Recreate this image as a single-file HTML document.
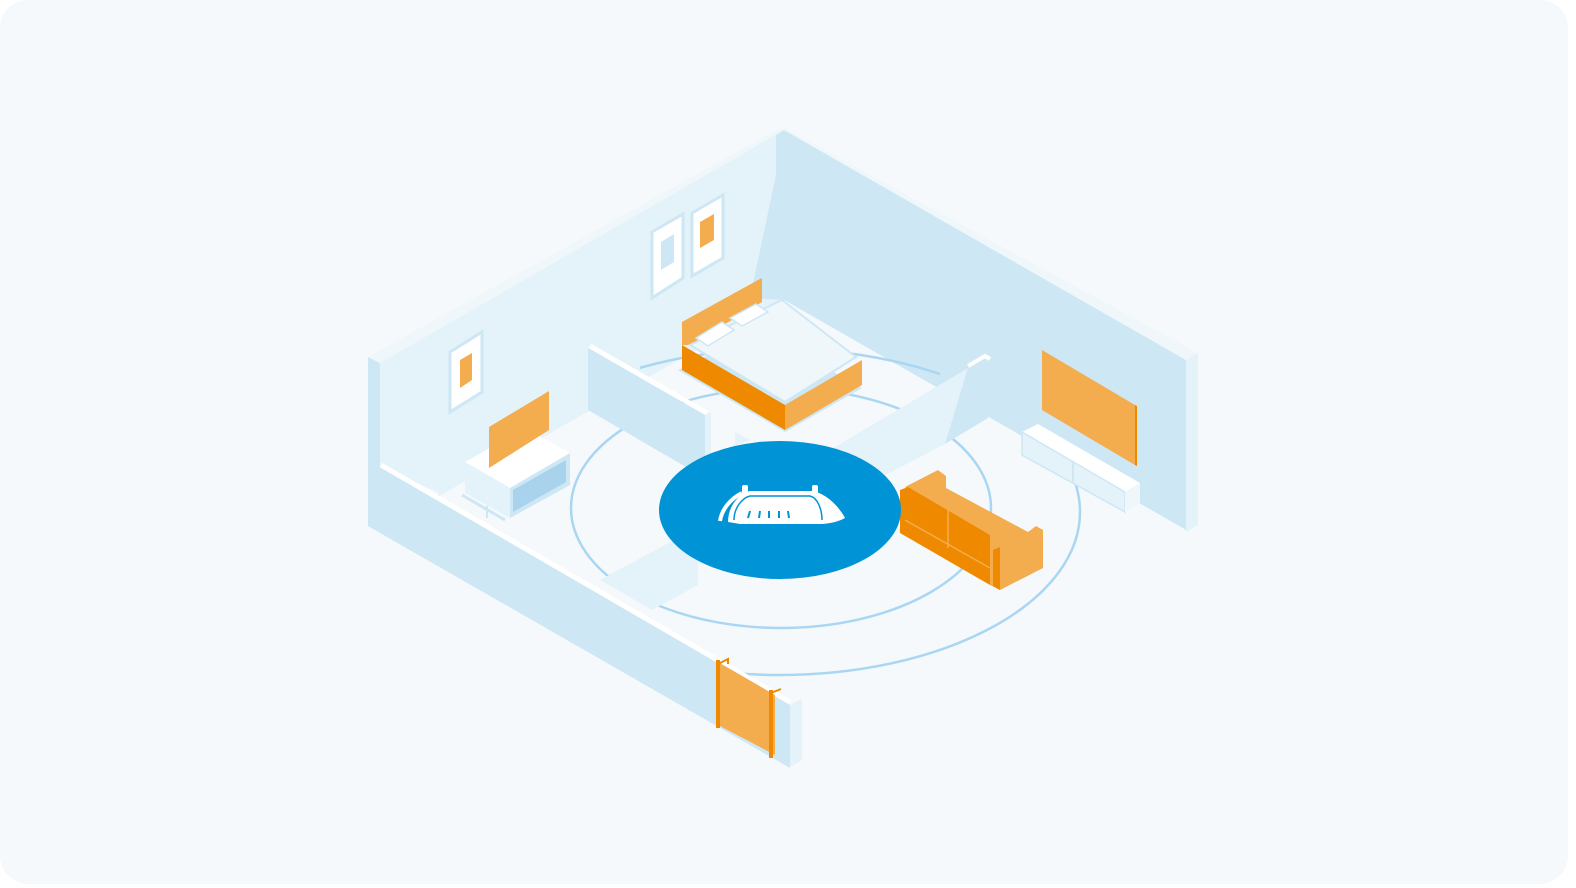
<!DOCTYPE html>
<html><head><meta charset="utf-8"><style>
html,body{margin:0;padding:0;background:#fff;width:1576px;height:888px;overflow:hidden}
</style></head><body>
<svg width="1576" height="888" viewBox="0 0 1576 888" xmlns="http://www.w3.org/2000/svg">
<defs>
<clipPath id="oc"><rect x="735" y="560" width="420" height="160"/><rect x="1040" y="440" width="80" height="200"/><rect x="640" y="340" width="300" height="48"/></clipPath>
</defs>
<rect x="0" y="0" width="1568" height="884" rx="28" fill="#f5f9fc"/>
<polygon points="380,363 784,130 784,300 380,530" fill="#e4f2f9"/>
<polygon points="776,135 784,130 1186,360 1186,530 784,300 750,298 776,175" fill="#cde7f4"/>
<polygon points="368,357 380,363 380,530 368,523" fill="#cde7f4"/>
<polygon points="368,357 780,128 784,130 380,363" fill="#f0f7fb"/>
<polygon points="1186,360 1198,353 1198,525 1186,532" fill="#e4f2f9"/>
<polygon points="784,128 1198,353 1186,360 784,130" fill="#f0f7fb"/>
<polygon points="380,530 784,300 1186,530 790,760" fill="#f5f9fc"/>
<polygon points="380,467 440,493 380,530" fill="#f5f9fc"/>
<ellipse cx="781" cy="508" rx="210" ry="120" fill="none" stroke="#a9d6f2" stroke-width="2.5"/>
<ellipse cx="780" cy="512" rx="300" ry="163" fill="none" stroke="#a9d6f2" stroke-width="2.5" clip-path="url(#oc)"/>
<polygon points="450,352 482,332 482,392 450,412" fill="#fff" stroke="#cde7f4" stroke-width="3"/>
<polygon points="460,360 472,353 472,380 460,388" fill="#f3ad4e"/>
<polygon points="652,232 683,214 683,278 652,298" fill="#fff" stroke="#cde7f4" stroke-width="3"/>
<polygon points="661,242 674,234 674,262 661,270" fill="#cde7f4"/>
<polygon points="692,213 723,195 723,258 692,276" fill="#fff" stroke="#cde7f4" stroke-width="3"/>
<polygon points="700,222 714,214 714,240 700,248" fill="#f3ad4e"/>
<polygon points="588,348 705,415 705,478 588,410" fill="#cde7f4"/>
<polygon points="705,415 711,412 711,476 705,478" fill="#e4f2f9"/>
<polyline points="590,346 707,413" stroke="#fff" stroke-width="5" fill="none"/>
<polygon points="830,450 968,368 945,444 880,478" fill="#e4f2f9"/>
<polygon points="968,368 988,358 988,418 945,444" fill="#cde7f4"/>
<polyline points="968,366 985,356 990,359" stroke="#fff" stroke-width="4" fill="none"/>
<polygon points="735,432 750,440 735,446" fill="#e4f2f9"/>
<polygon points="678,370 785,432 862,388 760,330" fill="#cde7f4"/>
<polygon points="682,322 758,280 762,278 762,302 690,345 682,345" fill="#f3ad4e"/>
<polygon points="682,345 785,405 785,430 682,370" fill="#ef8a00"/>
<polygon points="785,405 862,360 862,385 785,430" fill="#f3ad4e"/>
<polygon points="690,345 782,300 856,357 785,402" fill="#f0f7fb" stroke="#cde7f4" stroke-width="2"/>
<polygon points="696,338 722,322 734,330 708,346" fill="#fff" stroke="#cde7f4" stroke-width="1.5"/>
<polygon points="730,318 756,304 768,312 742,326" fill="#fff" stroke="#cde7f4" stroke-width="1.5"/>
<polygon points="465,462 525,428 570,453 510,488" fill="#fff"/>
<polygon points="465,462 510,488 510,518 465,493" fill="#e4f2f9"/>
<polygon points="510,488 570,453 570,485 510,518" fill="#cde7f4"/>
<polygon points="513,490 566,460 566,482 513,512" fill="#a9d3ec"/>
<line x1="462" y1="495" x2="505" y2="520" stroke="#cde7f4" stroke-width="3"/>
<line x1="487" y1="506" x2="487" y2="518" stroke="#cde7f4" stroke-width="2"/>
<polygon points="489,427 549,391 549,430 489,468" fill="#f3ad4e"/>
<polygon points="1042,350 1135,405 1135,465 1042,410" fill="#f3ad4e"/>
<polygon points="1135,405 1137,406 1137,466 1135,465" fill="#ef8a00"/>
<polygon points="1022,432 1038,424 1140,483 1125,492" fill="#fff"/>
<polygon points="1022,432 1125,492 1125,512 1022,455" fill="#e4f2f9" stroke="#cde7f4" stroke-width="1.5"/>
<polygon points="1125,492 1140,483 1140,503 1125,512" fill="#f0f7fb"/>
<line x1="1073" y1="462" x2="1073" y2="482" stroke="#cde7f4" stroke-width="2"/>
<polygon points="600,580 698,527 698,585 652,610" fill="#e4f2f9"/>
<polygon points="898,530 1000,590 1040,568 940,510" fill="#cde7f4"/>
<polygon points="905,487 938,470 946,476 946,488 1028,532 1036,526 1043,530 1043,568 1000,590 990,585 990,535 908,490" fill="#f3ad4e"/>
<polygon points="900,490 908,487 990,535 990,585 900,533" fill="#ef8a00"/>
<line x1="948" y1="508" x2="948" y2="548" stroke="#f3ad4e" stroke-width="1.5"/>
<line x1="905" y1="520" x2="990" y2="568" stroke="#f3ad4e" stroke-width="1.5"/>
<polygon points="993,550 1000,547 1000,590 993,586" fill="#ef8a00"/>
<polygon points="368,523 380,530 380,467 790,705 790,765" fill="#cde7f4"/>
<polygon points="368,523 790,765 790,768 368,526" fill="#cde7f4"/>
<polyline points="381,465 790,702" stroke="#fff" stroke-width="5" fill="none"/>
<polygon points="790,705 802,699 802,760 790,767" fill="#e4f2f9"/>
<polygon points="718,662 775,695 775,755 718,725" fill="#f3ad4e"/>
<line x1="718" y1="660" x2="718" y2="728" stroke="#ef8a00" stroke-width="4"/>
<line x1="771" y1="690" x2="771" y2="758" stroke="#ef8a00" stroke-width="4"/>
<polyline points="718,664 728,659 728,664" stroke="#ef8a00" stroke-width="2" fill="none"/>
<polyline points="771,693 781,689" stroke="#ef8a00" stroke-width="2" fill="none"/>
<ellipse cx="780" cy="510" rx="121" ry="69" fill="#0093d5"/>
<path d="M728,522 C728,505 740,493 750,491 L812,491 C825,493 838,505 845,518 C836,523 825,524 820,524 L740,524 Z" fill="#fff"/>
<path d="M720,521 C722,508 732,498 742,493" stroke="#fff" stroke-width="4" fill="none"/>
<rect x="742" y="485" width="6" height="10" rx="2" fill="#fff"/>
<rect x="812" y="485" width="6" height="10" rx="2" fill="#fff"/>
<path d="M734,520 C734,508 742,498 750,496 L810,496 C818,498 822,510 822,520" stroke="#0093d5" stroke-width="1.5" fill="none"/>
<g stroke="#0093d5" stroke-width="2"><line x1="750" y1="511" x2="748" y2="518"/><line x1="760" y1="511" x2="759" y2="518"/><line x1="769" y1="511" x2="769" y2="518"/><line x1="779" y1="511" x2="779" y2="518"/><line x1="788" y1="511" x2="789" y2="518"/></g>
</svg>
</body></html>
